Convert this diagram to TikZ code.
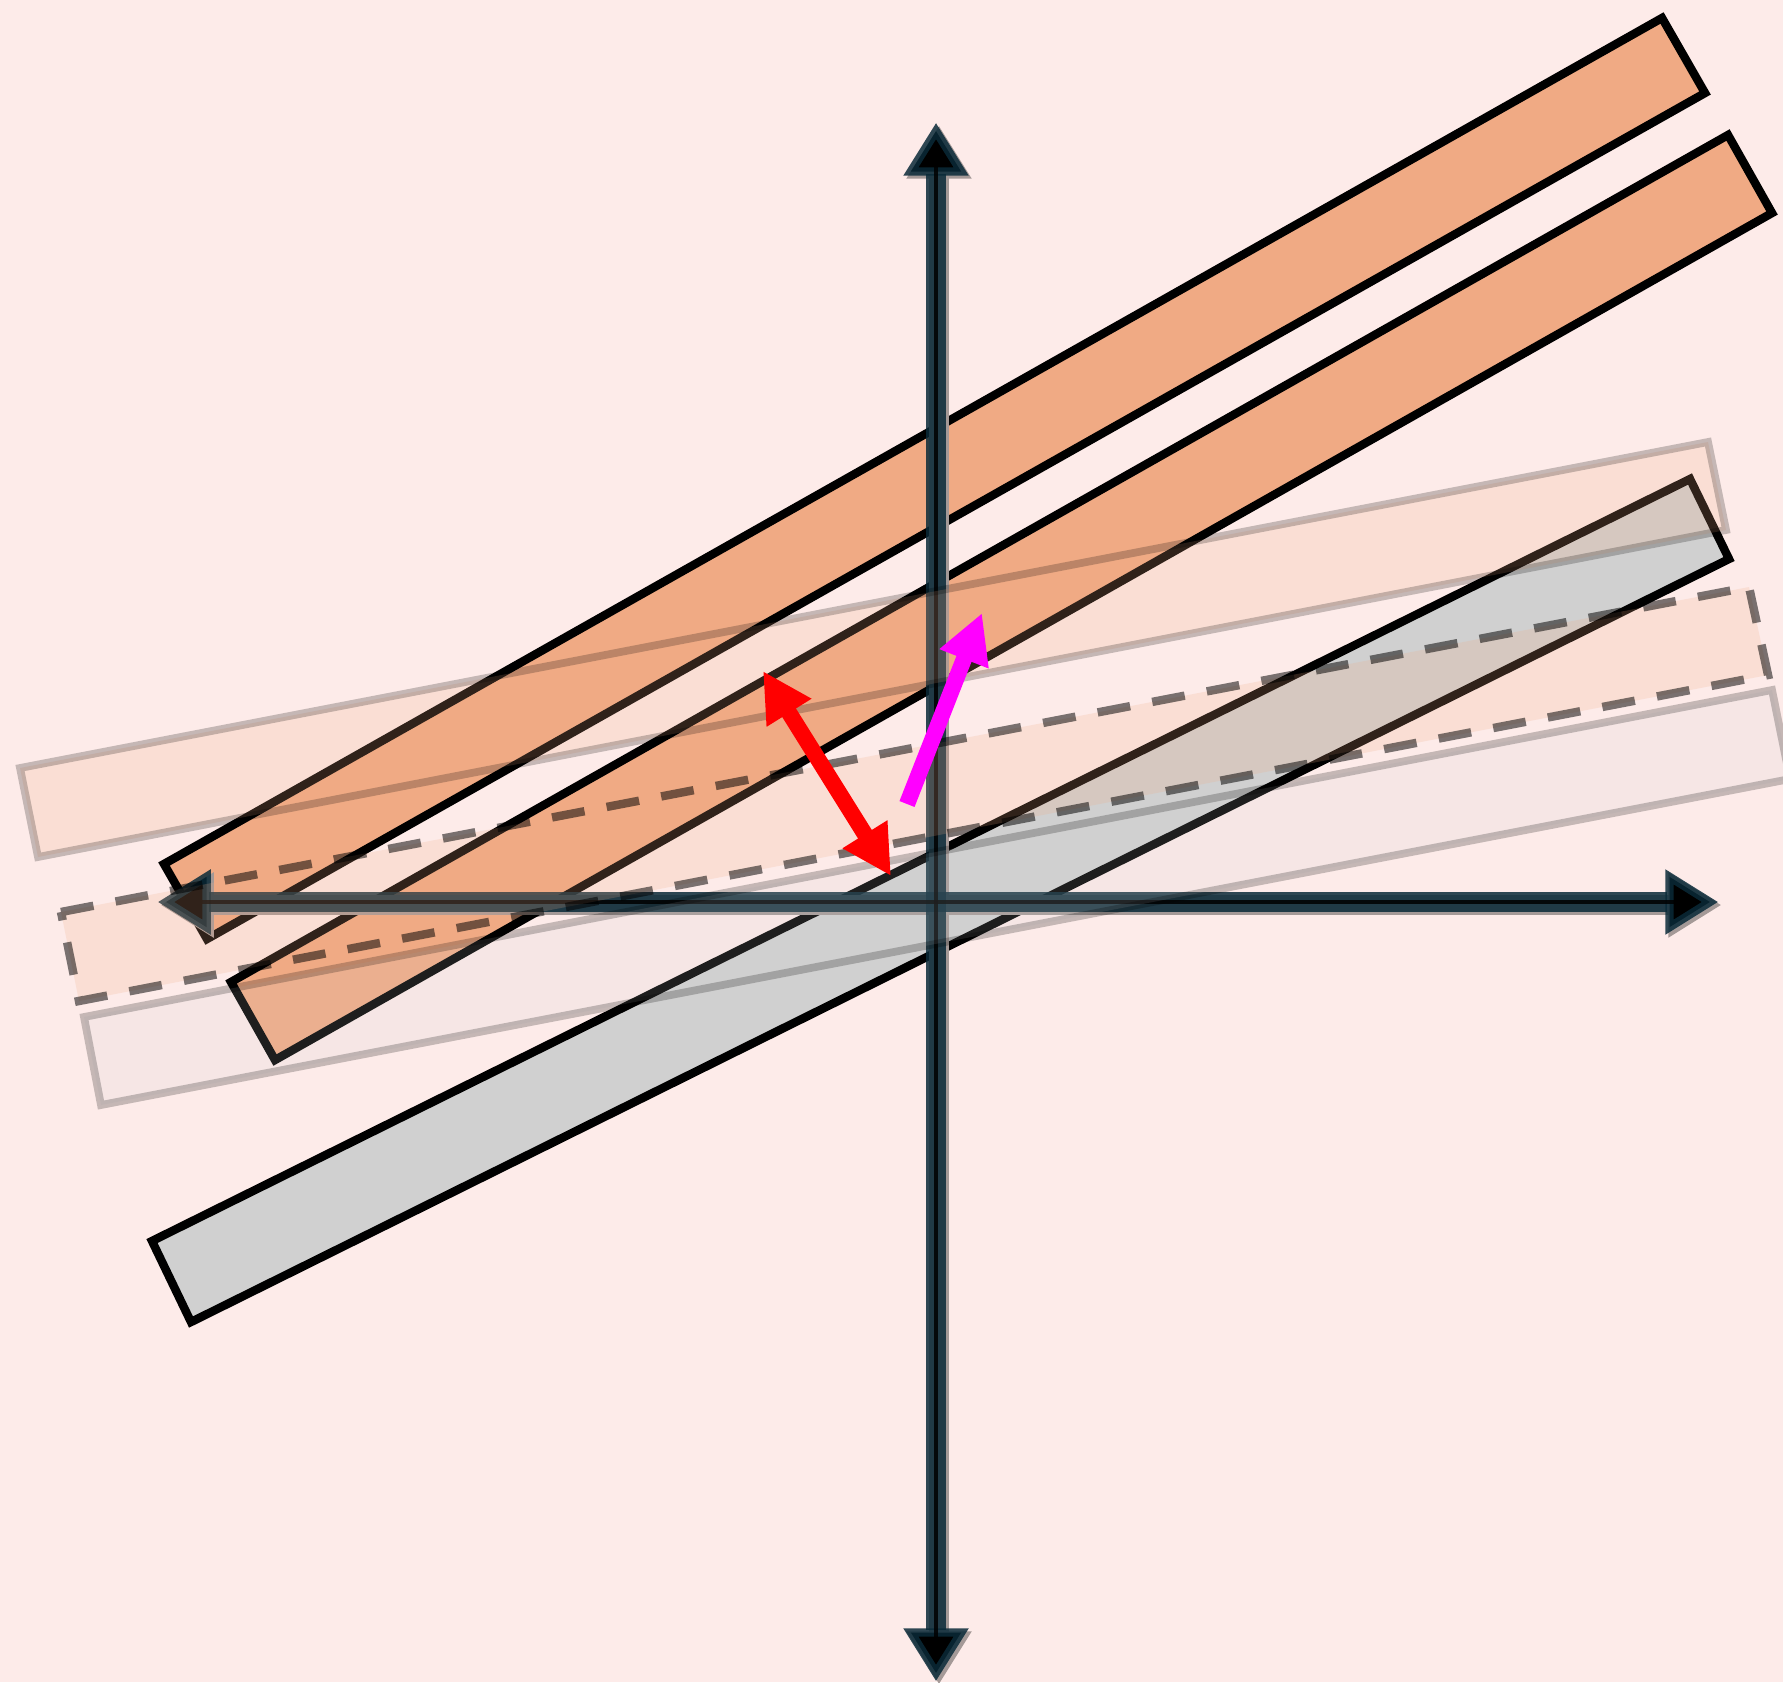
\documentclass[tikz,border=0pt]{standalone}
\usepackage{xcolor}
\usetikzlibrary{arrows.meta,positioning}
\definecolor{bgpink}{HTML}{FDEBE9}
\definecolor{barorange}{HTML}{F0AA84}
\definecolor{bargray}{HTML}{D0D0D0}
\definecolor{axisteal}{HTML}{0A2A38}
\definecolor{shadowgray}{HTML}{A49997}
\definecolor{vecred}{RGB}{255,0,0}
\definecolor{vecmagenta}{RGB}{255,0,255}

\begin{document}
\begin{tikzpicture}[
		x=0.01cm, y=-0.01cm,
		bar/.style={
			draw=black,
			line width=2.4pt,
			line join=miter
		},
		orangebar/.style={bar, fill=barorange},
		graybar/.style={bar, fill=bargray},
		fadedbar/.style={
			fill=barorange, fill opacity=0.2,
			draw=black, draw opacity=0.22,
			line width=2.2pt
		},
		dashbar/.style={
			fill=barorange, fill opacity=0.2,
			draw=black, draw opacity=0.52,
			line width=2.4pt,
			dash pattern=on 9.4pt off 6.4pt
		},
		palebar/.style={
			fill=bargray, fill opacity=0.15,
			draw=black, draw opacity=0.22,
			line width=2.2pt
		},
		axisline/.style={
			draw=axisteal, line width=5.6pt,
			draw opacity=0.85,
			>={Triangle[length=15pt,width=18pt,line width=2.4pt,fill=black]}, <->
		},
		axiscore/.style={
			draw=black, line width=1.3pt,
			draw opacity=0.85,
			shorten <=10pt, shorten >=10pt
		},
		axisshadow/.style={
			axisline,
			draw=shadowgray,
			>={Triangle[length=15pt,width=18pt,line width=2.4pt,fill=shadowgray]},
			draw opacity=1
		},
		redarrow/.style={
			draw=vecred, line width=4.6pt,
			>={Triangle[length=14pt,width=14pt]}, <->
		},
		pinkarrow/.style={
			draw=vecmagenta, line width=4.6pt,
			>={Triangle[length=14pt,width=14pt]}, ->
		}
		]
		
		\useasboundingbox (0,0) rectangle (1783,1682);
		\fill[bgpink] (0,0) rectangle (1783,1682);
		\clip (0,0) rectangle (1783,1682);
		
		\coordinate (ytop) at (936,123);
		\coordinate (ybot) at (936,1681);
		\coordinate (xleft) at (158,902);
		\coordinate (xright) at (1718,902);
		\coordinate (rup) at (763,671);
		\coordinate (rdown) at (891,876);
		\coordinate (mtail) at (907,804);
		\coordinate (mhead) at (982,613);
		
		\draw[orangebar] (164,864) -- (1662,18) -- (1705,93) -- (207,939) -- cycle;
		\draw[orangebar] (231,982) -- (1728,135) -- (1772,213) -- (275,1060) -- cycle;
		\draw[graybar] (152,1241) -- (1690,479) -- (1729,559) -- (191,1322) -- cycle;
		
		\draw[axisshadow, transform canvas={shift={(3,3)}}] (xleft) -- (xright);
		\draw[axisshadow, transform canvas={shift={(3,3)}}] (ybot) -- (ytop);
		\draw[axisline] (xleft) -- (xright);
		\draw[axisline] (ybot) -- (ytop);
		\draw[axiscore] (xleft) -- (xright);
		\draw[axiscore] (ybot) -- (ytop);
		
		\draw[fadedbar] (20,768) -- (1708,442) -- (1726,530) -- (38,857) -- cycle;
		\draw[dashbar] (61,912) -- (1749,587) -- (1768,675) -- (79,1001) -- cycle;
		\draw[palebar] (84,1017) -- (1772,690) -- (1790,779) -- (101,1105) -- cycle;
		
		\draw[redarrow] (rup) -- (rdown);
		\draw[pinkarrow] (mtail) -- (mhead);
		
	\end{tikzpicture}
\end{document}
